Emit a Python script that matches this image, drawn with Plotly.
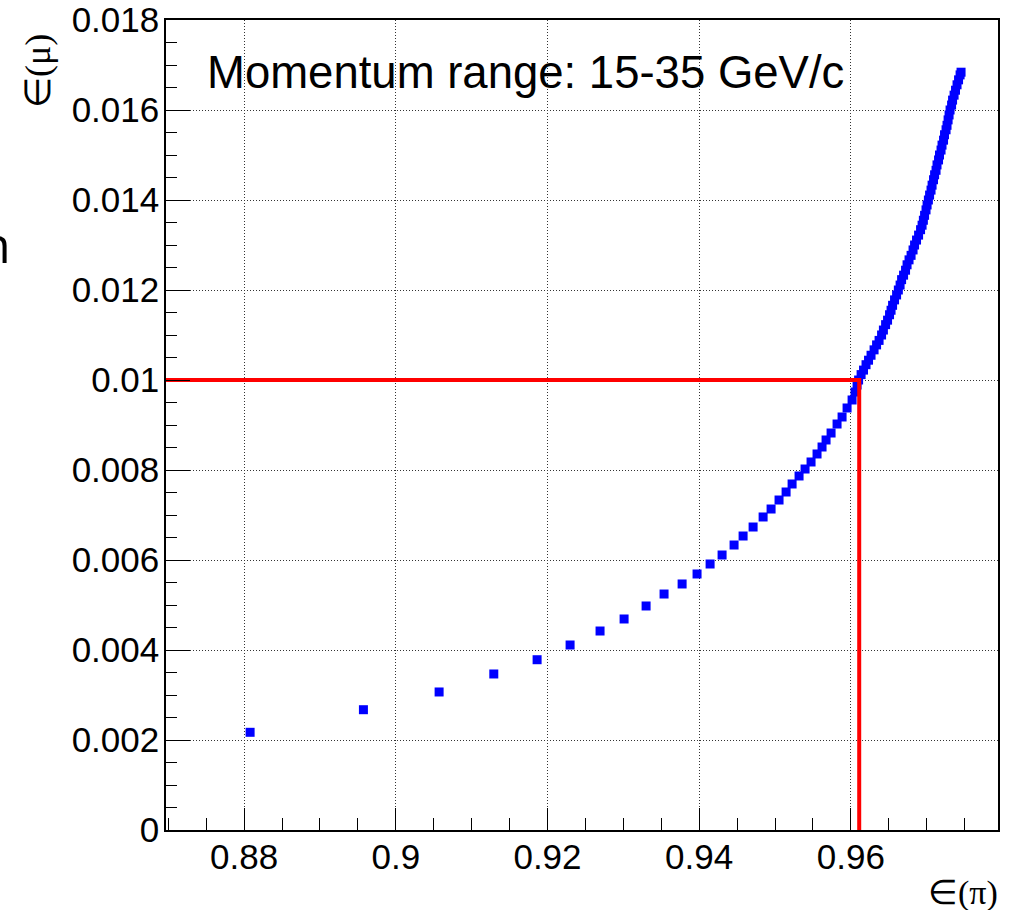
import plotly.graph_objects as go

# ---- data ----
eff_pi = [
    0.88079, 0.89573, 0.90571, 0.91292, 0.91863,
    0.92298, 0.92693, 0.93010, 0.93300, 0.93537, 0.93775, 0.93972, 0.94144,
    0.94302, 0.94460, 0.94579, 0.94711, 0.94843, 0.94948, 0.95053, 0.95146,
    0.95225, 0.95317, 0.95396, 0.95475, 0.95554, 0.95620, 0.95673, 0.95739,
    0.95818, 0.95884, 0.95950, 0.96016, 0.96055, 0.96082,
    0.96102, 0.96135, 0.96167, 0.96200, 0.96233, 0.96266, 0.96306, 0.96339,
    0.96372, 0.96405, 0.96429, 0.96458, 0.96484, 0.96510, 0.96530, 0.96550,
    0.96576, 0.96603, 0.96626, 0.96649, 0.96669, 0.96695, 0.96721, 0.96741,
    0.96767, 0.96794, 0.96820, 0.96840, 0.96866, 0.96893, 0.96919, 0.96939,
    0.96956, 0.96972, 0.96991, 0.97005, 0.97022, 0.97038, 0.97057, 0.97071,
    0.97090, 0.97104, 0.97123, 0.97136, 0.97156, 0.97169, 0.97189, 0.97202,
    0.97222, 0.97235, 0.97255, 0.97268, 0.97282, 0.97295, 0.97308, 0.97328,
    0.97341, 0.97361, 0.97380, 0.97400, 0.97420, 0.97440, 0.97453,
]
eff_mu = [
    0.002171, 0.002673, 0.003067, 0.003467, 0.003784,
    0.004111, 0.004422, 0.004689, 0.004978, 0.005244, 0.005467, 0.005689, 0.005911,
    0.006111, 0.006333, 0.006533, 0.006733, 0.006956, 0.007133, 0.007333, 0.007511,
    0.007689, 0.007867, 0.008022, 0.008178, 0.008356, 0.008511, 0.008667, 0.008822,
    0.009022, 0.009178, 0.009378, 0.009556, 0.009733, 0.009889,
    0.01000, 0.01012, 0.01022, 0.01034, 0.01044, 0.01055, 0.01067, 0.01078,
    0.01088, 0.01100, 0.01111, 0.01123, 0.01133, 0.01145, 0.01155, 0.01166,
    0.01178, 0.01189, 0.01200, 0.01211, 0.01223, 0.01233, 0.01244, 0.01256,
    0.01267, 0.01277, 0.01289, 0.01300, 0.01311, 0.01322, 0.01334, 0.01344,
    0.01355, 0.01366, 0.01378, 0.01389, 0.01400, 0.01411, 0.01422, 0.01433,
    0.01445, 0.01456, 0.01466, 0.01478, 0.01489, 0.01500, 0.01511, 0.01522,
    0.01533, 0.01545, 0.01556, 0.01566, 0.01578, 0.01589, 0.01600, 0.01611,
    0.01622, 0.01633, 0.01644, 0.01656, 0.01667, 0.01678, 0.01684,
]

x_range = [0.8697, 0.9794]
y_range = [0.0, 0.018]

cut_pi = 0.9611
cut_mu = 0.01

x_tick_vals = [0.88, 0.90, 0.92, 0.94, 0.96]
x_tick_text = ["0.88", "0.9", "0.92", "0.94", "0.96"]
y_tick_vals = [0, 0.002, 0.004, 0.006, 0.008, 0.010, 0.012, 0.014, 0.016, 0.018]
y_tick_text = ["0", "0.002", "0.004", "0.006", "0.008", "0.01", "0.012", "0.014", "0.016", "0.018"]

title_text = "Momentum range: 15-35 GeV/c"
x_title = "\u2208(\u03c0)"
y_title = "\u2208(\u03bc)"

# ---- figure ----
fig = go.Figure()

fig.add_trace(go.Scatter(
    x=eff_pi, y=eff_mu, mode="markers",
    marker=dict(symbol="square", size=9, color="#0000ff", line=dict(width=0)),
    showlegend=False, hoverinfo="x+y",
))

fig.add_trace(go.Scatter(
    x=[x_range[0], cut_pi, cut_pi], y=[cut_mu, cut_mu, y_range[0]],
    mode="lines", line=dict(color="#ff0000", width=4),
    showlegend=False, hoverinfo="skip",
))

sans = "Liberation Sans, Arial, Helvetica, sans-serif"
serif = "Liberation Serif, Times New Roman, serif"

axis_common = dict(
    showline=True, linecolor="black", linewidth=1.5, mirror=True,
    ticks="inside", tickcolor="black", tickwidth=1,
    showgrid=True, gridcolor="#333333", gridwidth=1, griddash="1px,2px",
    zeroline=False, automargin=False,
    tickfont=dict(family=sans, size=35, color="black"),
)

fig.update_xaxes(
    range=x_range, tickmode="array", tickvals=x_tick_vals, ticktext=x_tick_text,
    ticklen=22, ticklabelstandoff=-5,
    minor=dict(dtick=0.005, tick0=0.87, ticklen=12, ticks="inside",
               tickcolor="black", tickwidth=1, showgrid=False),
    **axis_common,
)
fig.update_yaxes(
    range=[y_range[0] - 1e-7, y_range[1] + 1e-7], tickmode="array",
    tickvals=y_tick_vals, ticktext=y_tick_text,
    ticklen=24, ticklabelstandoff=-2,
    minor=dict(dtick=0.0005, tick0=0, ticklen=11, ticks="inside",
               tickcolor="black", tickwidth=1, showgrid=False),
    **axis_common,
)

annotations = [
    dict(text=title_text, xref="paper", yref="paper", x=0.0469, y=0.9346,
         xanchor="left", yanchor="middle", showarrow=False,
         font=dict(family=sans, size=45.5, color="black")),
    dict(text=x_title, xref="paper", yref="paper", x=1.003, y=-0.0775,
         xanchor="right", yanchor="middle", showarrow=False,
         font=dict(family=serif, size=34, color="black")),
    dict(text=y_title, xref="paper", yref="paper", x=-0.1538, y=0.937,
         xanchor="center", yanchor="middle", showarrow=False, textangle=-90,
         font=dict(family=serif, size=36, color="black")),
    dict(text="n", xref="paper", yref="paper", x=-0.1839, y=0.724,
         xanchor="right", yanchor="middle", showarrow=False,
         font=dict(family="Open Sans, sans-serif", size=50, color="black")),
]

fig.update_layout(
    width=1022, height=910,
    margin=dict(l=166, r=24, t=20, b=80, autoexpand=False),
    paper_bgcolor="white", plot_bgcolor="white",
    annotations=annotations,
)

fig.write_html("out.html", config={"displayModeBar": False},
               post_script="document.body.style.margin='0';")
